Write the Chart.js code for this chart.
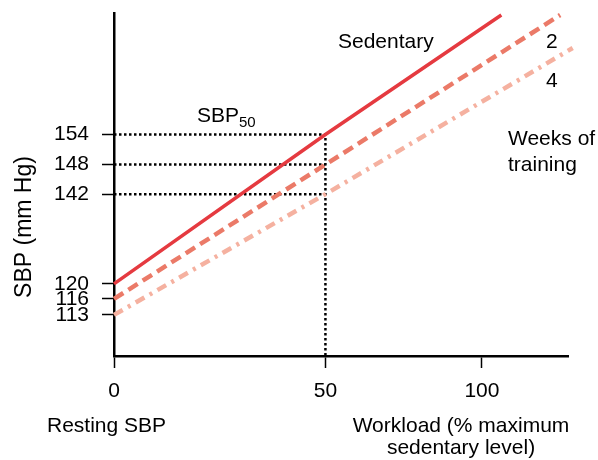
<!DOCTYPE html>
<html>
<head>
<meta charset="utf-8">
<script src="https://cdn.jsdelivr.net/npm/chart.js@4/dist/chart.umd.min.js"></script>
<style>
  html, body { margin: 0; padding: 0; background: #fff; }
  canvas { display: block; }
</style>
</head>
<body>
<canvas id="sbp" width="598" height="460"></canvas>
<script>
// tick values printed on the axes
var xTicks = [0, 50, 100];
var yTicks = [113, 116, 120, 142, 148, 154];

// line series (workload %, SBP mm Hg)
var sedentaryX = [0, 50, 106.2];
var sedentaryY = [120, 154, 177.9];
var week2X = [0, 50, 125];
var week2Y = [116, 148, 177.9];
var week4X = [0, 50, 129];
var week4Y = [113, 142, 171.3];

// SBP50 reference values at 50 % workload
var sbp50X = 50;
var sbp50Y = [154, 148, 142];

// the drawing is schematic: the axes are not evenly spaced,
// so each axis gets a piecewise mapping (value -> relative distance)
var knots = {
    x: { vals: [0, 50, 100], dist: [0, 211.7, 368.4] },
    y: { vals: [113, 116, 120, 142, 148, 154], dist: [41, 57, 72, 161.7, 191.3, 221.3] }
};

function toDist(k, v) {
    var i = 0;
    while (i < k.vals.length - 2 && v > k.vals[i + 1]) i++;
    var v0 = k.vals[i], v1 = k.vals[i + 1];
    var d0 = k.dist[i], d1 = k.dist[i + 1];
    return d0 + (v - v0) * (d1 - d0) / (v1 - v0);
}
function fromDist(k, d) {
    var i = 0;
    while (i < k.dist.length - 2 && d > k.dist[i + 1]) i++;
    var v0 = k.vals[i], v1 = k.vals[i + 1];
    var d0 = k.dist[i], d1 = k.dist[i + 1];
    return v0 + (d - d0) * (v1 - v0) / (d1 - d0);
}

class KnotScale extends Chart.LinearScale {
    getPixelForValue(value) {
        if (value === null || value === undefined) return NaN;
        var k = knots[this.id];
        var a = toDist(k, this.min), b = toDist(k, this.max);
        return this.getPixelForDecimal((toDist(k, value) - a) / (b - a));
    }
    getValueForPixel(pixel) {
        var k = knots[this.id];
        var a = toDist(k, this.min), b = toDist(k, this.max);
        return fromDist(k, a + this.getDecimalForPixel(pixel) * (b - a));
    }
}
KnotScale.id = 'knot';
KnotScale.defaults = {};
Chart.register(KnotScale);

function pts(xs, ys) {
    var out = [];
    for (var i = 0; i < xs.length; i++) out.push({ x: xs[i], y: ys[i] });
    return out;
}

var yMin = 105.3, yMax = 178.3;
var xMin = 0, xMax = 127.5;

var dotted = [];
sbp50Y.forEach(function (v, i) {
    var d = [{ x: xMin, y: v }, { x: sbp50X, y: v }];
    if (i === 0) d.push({ x: sbp50X, y: yMin });
    dotted.push({
        data: d,
        borderColor: '#000',
        borderWidth: 2.5,
        borderDash: [2.5, 2.5],
        pointRadius: 0,
        clip: false
    });
});

var fam = '"Liberation Sans", Arial, sans-serif';
var txtFont = '21px ' + fam;

var labelsPlugin = {
    id: 'labels',
    afterDraw: function (chart) {
        var c = chart.ctx;
        c.save();
        c.fillStyle = '#000';
        c.font = txtFont;
        c.textBaseline = 'alphabetic';
        c.textAlign = 'left';
        c.fillText('Sedentary', 338, 48);
        c.fillText('2', 546, 48);
        c.fillText('4', 546, 87);
        c.fillText('Weeks of', 508, 145);
        c.fillText('training', 508, 171);
        c.fillText('Resting SBP', 47, 432);
        c.fillText('SBP', 197, 122);
        var w = c.measureText('SBP').width;
        c.font = '15px ' + fam;
        c.fillText('50', 197 + w, 127);
        c.font = txtFont;
        c.textAlign = 'center';
        c.fillText('Workload (% maximum', 461, 432);
        c.fillText('sedentary level)', 461, 454);
        c.font = '23px ' + fam;
        c.translate(31, 227);
        c.rotate(-Math.PI / 2);
        c.fillText('SBP (mm Hg)', 0, 0);
        c.restore();
    }
};

function noPad(s) {
    s.paddingTop = 0;
    s.paddingBottom = 0;
    s.paddingLeft = 0;
    s.paddingRight = 0;
}

new Chart(document.getElementById('sbp').getContext('2d'), {
    type: 'line',
    data: {
        datasets: [{
            data: pts(sedentaryX, sedentaryY),
            borderColor: '#e53a40',
            borderWidth: 3.5,
            pointRadius: 0,
            clip: false
        }, {
            data: pts(week2X, week2Y),
            borderColor: '#eb7a68',
            borderWidth: 4.5,
            borderDash: [11, 6],
            pointRadius: 0,
            clip: false
        }, {
            data: pts(week4X, week4Y),
            borderColor: '#f5b1a0',
            borderWidth: 4.5,
            borderDash: [10, 6, 3, 6],
            pointRadius: 0,
            clip: false
        }].concat(dotted)
    },
    options: {
        responsive: false,
        animation: false,
        events: [],
        layout: { padding: { left: 0, right: 30, top: 13, bottom: 0 } },
        plugins: { legend: { display: false }, tooltip: { enabled: false } },
        scales: {
            x: {
                type: 'knot',
                min: xMin,
                max: xMax,
                afterBuildTicks: function (s) { s.ticks = xTicks.map(function (v) { return { value: v }; }); },
                afterFit: function (s) { s.height = 104; noPad(s); },
                ticks: { color: '#000', font: { size: 21, family: fam }, padding: 11, maxRotation: 0 },
                grid: { drawOnChartArea: false, tickLength: 12, tickWidth: 1.5, tickColor: '#000' },
                border: { color: '#000', width: 2.5 }
            },
            y: {
                type: 'knot',
                min: yMin,
                max: yMax,
                afterBuildTicks: function (s) { s.ticks = yTicks.map(function (v) { return { value: v }; }); },
                afterFit: function (s) { s.width = 114; noPad(s); },
                ticks: { color: '#000', font: { size: 21, family: fam }, padding: 13 },
                grid: { drawOnChartArea: false, tickLength: 12, tickWidth: 1.5, tickColor: '#000' },
                border: { color: '#000', width: 2.5 }
            }
        }
    },
    plugins: [labelsPlugin]
});
</script>
</body>
</html>
